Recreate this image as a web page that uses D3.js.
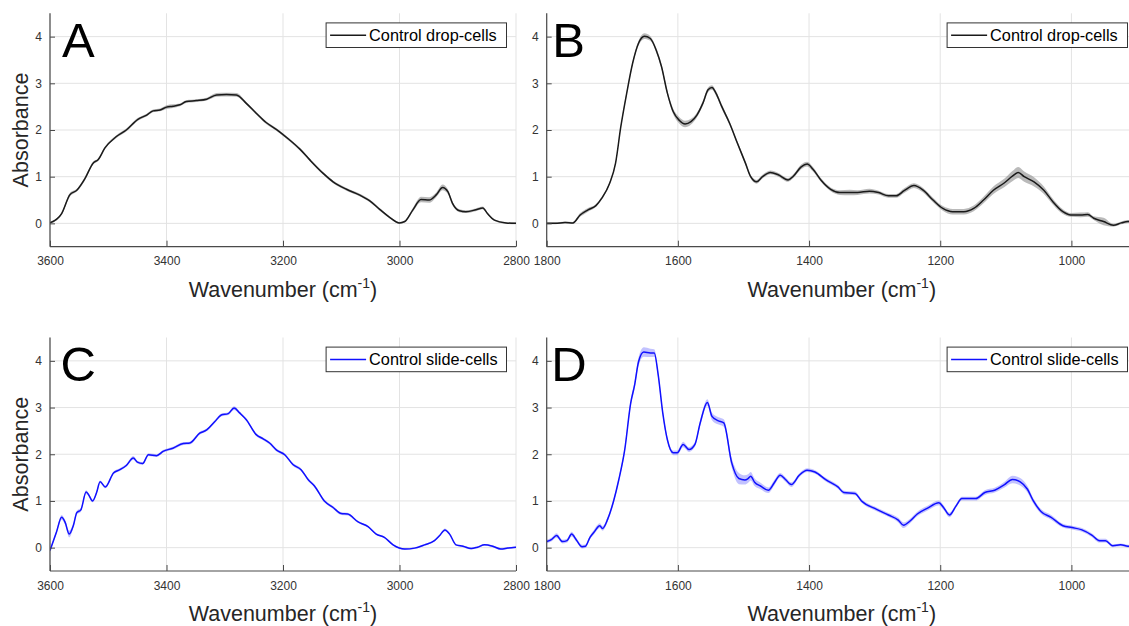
<!DOCTYPE html>
<html>
<head>
<meta charset="utf-8">
<script src="https://cdn.jsdelivr.net/npm/d3@7"></script>
<style>
  body { margin: 0; background: #fff; }
  text { font-family: "Liberation Sans", Arial, sans-serif; }
</style>
</head>
<body>
<div id="viz"></div>
<script>

// high wavenumber region (panels A and C)
var wnA = [3600,3580,3566,3554,3540,3526,3517,3506,3486,3469,3449,3434,3423,3411,3400,3389,3377,3366,3349,3331,3314,3297,3280,3263,3246,3229,3211,3189,3171,3154,3131,3114,3091,3069,3051,3034,3017,3000,2991,2977,2963,2949,2937,2926,2917,2909,2897,2886,2869,2857,2849,2837,2817,2800];
var absA = [0.01,0.21,0.61,0.71,0.96,1.29,1.37,1.61,1.86,2.0,2.23,2.32,2.41,2.43,2.49,2.51,2.54,2.61,2.63,2.66,2.75,2.76,2.75,2.57,2.36,2.16,2.01,1.79,1.59,1.36,1.07,0.89,0.73,0.61,0.48,0.30,0.13,0.01,0.04,0.29,0.51,0.50,0.61,0.77,0.68,0.43,0.27,0.25,0.29,0.33,0.21,0.07,0.01,0.0];
var sdA = [0.02,0.03,0.04,0.03,0.04,0.03,0.03,0.03,0.03,0.03,0.03,0.03,0.03,0.03,0.04,0.04,0.03,0.03,0.03,0.03,0.04,0.04,0.04,0.03,0.03,0.03,0.03,0.03,0.03,0.03,0.03,0.03,0.03,0.03,0.03,0.03,0.02,0.02,0.02,0.04,0.06,0.06,0.05,0.06,0.05,0.04,0.03,0.03,0.03,0.03,0.02,0.02,0.02,0.02];

var wnC = [3600,3589,3580,3574,3567,3560,3554,3547,3538,3534,3527,3520,3514,3505,3491,3480,3469,3457,3450,3441,3431,3417,3406,3389,3371,3360,3343,3331,3317,3306,3294,3284,3274,3263,3246,3234,3223,3211,3197,3183,3169,3157,3146,3129,3114,3100,3089,3071,3054,3040,3026,3011,2991,2974,2957,2940,2931,2922,2914,2903,2891,2877,2866,2854,2840,2826,2814,2800];
var absC = [-0.06,0.33,0.65,0.54,0.29,0.47,0.75,0.81,1.19,1.14,1.0,1.18,1.41,1.30,1.60,1.67,1.76,1.92,1.83,1.80,1.99,1.97,2.06,2.13,2.23,2.24,2.45,2.52,2.70,2.84,2.87,2.99,2.88,2.74,2.42,2.33,2.24,2.09,1.99,1.78,1.67,1.46,1.32,1.0,0.86,0.73,0.72,0.55,0.45,0.29,0.22,0.06,-0.03,-0.01,0.06,0.15,0.26,0.38,0.29,0.06,0.03,-0.02,0.01,0.06,0.03,-0.03,-0.01,0.01];
var sdC = [0.03,0.04,0.05,0.05,0.07,0.05,0.04,0.04,0.04,0.03,0.03,0.03,0.03,0.03,0.03,0.03,0.03,0.04,0.03,0.03,0.03,0.03,0.03,0.03,0.03,0.03,0.03,0.03,0.03,0.03,0.03,0.04,0.03,0.03,0.03,0.03,0.03,0.03,0.03,0.03,0.03,0.03,0.03,0.03,0.03,0.03,0.03,0.02,0.02,0.02,0.02,0.02,0.02,0.02,0.02,0.02,0.02,0.03,0.02,0.02,0.02,0.02,0.02,0.02,0.02,0.02,0.02,0.02];

// fingerprint region (panels B and D)
var wnB = [1800,1787,1772,1760,1749,1737,1725,1716,1704,1695,1687,1678,1669,1660,1651,1642,1633,1625,1616,1607,1598,1589,1580,1571,1562,1554,1548,1542,1533,1521,1509,1497,1489,1480,1471,1459,1447,1432,1424,1412,1403,1394,1382,1367,1353,1338,1326,1308,1294,1279,1267,1255,1240,1226,1211,1196,1181,1164,1149,1134,1119,1102,1090,1081,1072,1057,1042,1028,1013,1001,986,975,966,951,936,924,914,900];
var absB = [0,0,0.02,0.01,0.18,0.29,0.38,0.54,0.86,1.29,2.07,2.79,3.43,3.86,4.01,3.96,3.71,3.36,2.79,2.39,2.21,2.13,2.18,2.32,2.57,2.86,2.91,2.79,2.5,2.14,1.71,1.29,1.0,0.89,1.0,1.09,1.04,0.93,1.01,1.21,1.27,1.16,0.93,0.73,0.66,0.66,0.66,0.69,0.66,0.59,0.59,0.70,0.81,0.71,0.50,0.32,0.25,0.25,0.32,0.50,0.71,0.87,1.01,1.09,1.0,0.89,0.71,0.46,0.25,0.18,0.18,0.19,0.11,0.04,-0.04,0.01,0.04,0.03];
var sdB = [0.02,0.02,0.02,0.02,0.04,0.04,0.03,0.03,0.03,0.03,0.03,0.04,0.04,0.05,0.06,0.05,0.05,0.05,0.05,0.06,0.07,0.07,0.06,0.05,0.05,0.05,0.05,0.05,0.05,0.04,0.04,0.04,0.04,0.04,0.04,0.04,0.04,0.04,0.04,0.05,0.05,0.05,0.04,0.04,0.05,0.06,0.05,0.05,0.04,0.04,0.04,0.05,0.05,0.05,0.05,0.05,0.06,0.06,0.06,0.07,0.08,0.09,0.11,0.12,0.11,0.10,0.08,0.06,0.05,0.04,0.05,0.05,0.04,0.08,0.03,0.03,0.03,0.03];

var wnD = [1800,1793,1785,1776,1769,1762,1755,1746,1741,1734,1728,1719,1715,1707,1698,1690,1681,1672,1666,1660,1652,1642,1636,1630,1623,1616,1607,1601,1592,1583,1574,1566,1555,1548,1539,1530,1518,1507,1498,1493,1489,1483,1474,1462,1453,1444,1436,1427,1415,1403,1391,1374,1356,1347,1330,1320,1297,1279,1264,1256,1246,1235,1220,1202,1195,1186,1176,1167,1146,1132,1117,1102,1090,1078,1067,1058,1046,1031,1013,999,984,969,957,948,937,925,914,900];
var absD = [0.13,0.17,0.26,0.13,0.15,0.29,0.17,0.02,0.03,0.22,0.33,0.47,0.41,0.61,1.0,1.46,2.10,3.09,3.48,3.98,4.19,4.17,4.17,3.70,2.88,2.31,2.03,2.03,2.21,2.10,2.21,2.67,3.11,2.81,2.72,2.67,1.82,1.48,1.45,1.48,1.53,1.40,1.32,1.23,1.39,1.55,1.46,1.35,1.55,1.66,1.62,1.45,1.30,1.18,1.16,1.0,0.82,0.70,0.59,0.48,0.57,0.72,0.84,0.96,0.86,0.70,0.89,1.05,1.05,1.18,1.23,1.35,1.46,1.41,1.25,1.0,0.77,0.65,0.47,0.43,0.38,0.27,0.15,0.15,0.04,0.06,0.03,0.02];
var sdD = [0.04,0.04,0.05,0.04,0.04,0.05,0.04,0.04,0.04,0.04,0.05,0.05,0.05,0.05,0.05,0.05,0.06,0.07,0.08,0.09,0.10,0.09,0.08,0.07,0.06,0.05,0.05,0.05,0.06,0.05,0.05,0.06,0.07,0.08,0.08,0.08,0.10,0.12,0.10,0.09,0.09,0.08,0.07,0.06,0.06,0.05,0.05,0.05,0.04,0.04,0.04,0.04,0.04,0.04,0.04,0.04,0.04,0.04,0.05,0.06,0.05,0.05,0.05,0.05,0.05,0.05,0.04,0.04,0.04,0.05,0.05,0.06,0.08,0.08,0.07,0.06,0.05,0.05,0.04,0.04,0.04,0.04,0.04,0.04,0.03,0.03,0.03,0.03];

var xTicksHigh = [3600,3400,3200,3000,2800];
var xTicksLow = [1800,1600,1400,1200,1000];
var yTicks = [0,1,2,3,4];

var width = 1129,
    height = 626;

var panels = [
  {letter:'A', wn:wnA, abs:absA, sd:sdA, xDom:[3600,2800], ticks:xTicksHigh, x0:50, x1:516, y0:13.3, y1:246.7, lx:12, ylab:true, name:'Control drop-cells', color:'#1a1a1a', band:'#8c8c8c', bandOp:0.6},
  {letter:'B', wn:wnB, abs:absB, sd:sdB, xDom:[1800,900], ticks:xTicksLow, x0:546.7, x1:1137, y0:13.3, y1:246.7, lx:5.5, ylab:false, name:'Control drop-cells', color:'#1a1a1a', band:'#8c8c8c', bandOp:0.6},
  {letter:'C', wn:wnC, abs:absC, sd:sdC, xDom:[3600,2800], ticks:xTicksHigh, x0:50, x1:516, y0:337.5, y1:571, lx:10.5, ylab:true, name:'Control slide-cells', color:'#1010ff', band:'#7878ff', bandOp:0.45},
  {letter:'D', wn:wnD, abs:absD, sd:sdD, xDom:[1800,900], ticks:xTicksLow, x0:546.7, x1:1137, y0:337.5, y1:571, lx:4.5, ylab:false, name:'Control slide-cells', color:'#1010ff', band:'#7878ff', bandOp:0.45}
];

var svg = d3.select('#viz').append('svg')
  .attr('width', width)
  .attr('height', height)

panels.forEach(function(p, k){

  var x = d3.scaleLinear().domain(p.xDom).range([p.x0, p.x1]);
  var y = d3.scaleLinear().domain([-0.5, 4.5]).range([p.y1, p.y0]);

  var data = p.wn.map(function(w, i){
    return {wn: w, a: p.abs[i], sd: p.sd[i]};
  });

  var g = svg.append('g').attr('class', 'panel');

  // grid
  g.selectAll('.gx')
    .data(p.ticks)
    .enter()
    .append('line')
    .attr('x1', function(d){ return x(d) })
    .attr('x2', function(d){ return x(d) })
    .attr('y1', p.y0)
    .attr('y2', p.y1)
    .attr('stroke', '#e3e3e3')
    .attr('stroke-width', 1)

  g.selectAll('.gy')
    .data(yTicks)
    .enter()
    .append('line')
    .attr('x1', p.x0)
    .attr('x2', p.x1)
    .attr('y1', function(d){ return y(d) })
    .attr('y2', function(d){ return y(d) })
    .attr('stroke', '#e3e3e3')
    .attr('stroke-width', 1)

  var clipId = 'clip' + k;
  g.append('clipPath').attr('id', clipId)
    .append('rect')
    .attr('x', p.x0).attr('y', p.y0)
    .attr('width', p.x1 - p.x0).attr('height', p.y1 - p.y0)

  var area = d3.area()
    .x(function(d){ return x(d.wn) })
    .y0(function(d){ return y(d.a - d.sd) })
    .y1(function(d){ return y(d.a + d.sd) })
    .curve(d3.curveMonotoneX)

  var line = d3.line()
    .x(function(d){ return x(d.wn) })
    .y(function(d){ return y(d.a) })
    .curve(d3.curveMonotoneX)

  var plot = g.append('g').attr('clip-path', 'url(#' + clipId + ')');

  plot.append('path')
    .datum(data)
    .attr('d', area)
    .attr('fill', p.band)
    .attr('fill-opacity', p.bandOp)

  plot.append('path')
    .datum(data)
    .attr('d', line)
    .attr('fill', 'none')
    .attr('stroke', p.color)
    .attr('stroke-width', 1.5)

  // axes (ticks point inward like matlab)
  var xAxis = d3.axisBottom(x).tickValues(p.ticks).tickSize(-6).tickPadding(10).tickFormat(d3.format('d'));
  var yAxis = d3.axisLeft(y).tickValues(yTicks).tickSize(-5).tickPadding(8).tickFormat(d3.format('d'));

  var gx = g.append('g')
    .attr('transform', 'translate(0,' + p.y1 + ')')
    .call(xAxis)
  var gy = g.append('g')
    .attr('transform', 'translate(' + p.x0 + ',0)')
    .call(yAxis)

  ;[gx, gy].forEach(function(ax){
    ax.select('.domain').attr('stroke', '#4a4a4a').attr('stroke-width', 1.2)
    ax.selectAll('.tick line').attr('stroke', '#4a4a4a')
    ax.selectAll('.tick text')
      .attr('fill', '#333')
      .style('font-size', '12px')
      .style('font-family', '"Liberation Sans", Arial, sans-serif')
  })
  gx.select('.domain').attr('d', 'M' + p.x0 + ',0H' + p.x1)
  gy.select('.domain').attr('d', 'M0,' + p.y1 + 'V' + p.y0)

  // x label
  var xl = g.append('text')
    .attr('x', (p.x0 + p.x1) / 2)
    .attr('y', p.y1 + 50)
    .attr('text-anchor', 'middle')
    .attr('fill', '#262626')
    .style('font-size', '21.5px')
  xl.append('tspan').text('Wavenumber (cm')
  xl.append('tspan').attr('dy', -9).style('font-size', '14px').text('-1')
  xl.append('tspan').attr('dy', 9).text(')')

  if(p.ylab){
    g.append('text')
      .attr('transform', 'translate(' + (p.x0 - 22) + ',' + ((p.y0 + p.y1) / 2) + ') rotate(-90)')
      .attr('text-anchor', 'middle')
      .attr('fill', '#262626')
      .style('font-size', '21.5px')
      .text('Absorbance')
  }

  // panel letter
  g.append('text')
    .attr('x', p.x0 + p.lx)
    .attr('y', p.y0 + 43.4)
    .attr('fill', '#000')
    .style('font-size', '49px')
    .text(p.letter)

  // legend
  var lw = 180.4, lh = 24.6;
  var lx = p.x1 - 9.5 - lw, ly = p.y0 + 9.6;
  var leg = g.append('g').attr('transform', 'translate(' + lx + ',' + ly + ')');
  leg.append('rect')
    .attr('width', lw).attr('height', lh)
    .attr('fill', '#fff')
    .attr('stroke', '#333')
    .attr('stroke-width', 1)
  leg.append('line')
    .attr('x1', 4).attr('x2', 40)
    .attr('y1', lh / 2).attr('y2', lh / 2)
    .attr('stroke', p.color)
    .attr('stroke-width', 1.5)
  leg.append('text')
    .attr('x', 43)
    .attr('y', lh / 2 + 5.8)
    .attr('fill', '#000')
    .style('font-size', '16.3px')
    .text(p.name)
})

</script>
</body>
</html>
